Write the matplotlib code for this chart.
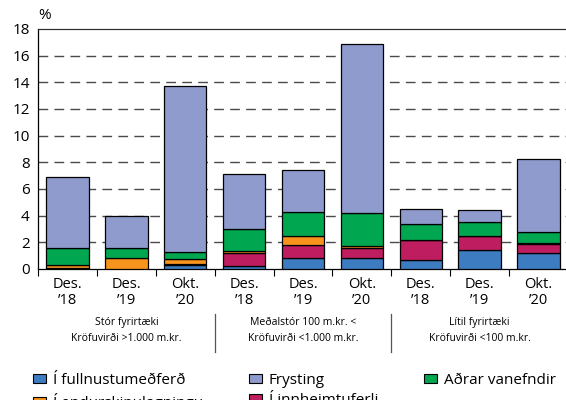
import matplotlib.pyplot as plt
from matplotlib.patches import Patch

plt.rcParams["font.family"] = ["Open Sans", "DejaVu Sans"]

# bars, left to right
tick_labels = ["Des.\n\u201918", "Des.\n\u201919", "Okt.\n\u201920"] * 3
group_labels = [
    "Stór fyrirtæki\nKröfuvirði >1.000 m.kr.",
    "Meðalstór 100 m.kr. <\nKröfuvirði <1.000 m.kr.",
    "Lítil fyrirtæki\nKröfuvirði <100 m.kr.",
]

# stacked components (%), bottom to top
fullnusta = [0.05, 0.0, 0.3, 0.22, 0.83, 0.8, 0.7, 1.4, 1.2]
innheimta = [0.0, 0.0, 0.1, 0.95, 0.97, 0.75, 1.5, 1.1, 0.7]
endursk = [0.25, 0.83, 0.35, 0.2, 0.68, 0.2, 0.0, 0.0, 0.05]
adrar = [1.3, 0.72, 0.5, 1.6, 1.8, 2.45, 1.2, 1.0, 0.8]
frysting = [5.3, 2.45, 12.5, 4.15, 3.15, 12.7, 1.08, 0.95, 5.53]

series = [
    ("Í fullnustumeðferð", fullnusta, "#3d7cc0"),
    ("Í innheimtuferli", innheimta, "#be1e5f"),
    ("Í endurskipulagningu", endursk, "#f7941e"),
    ("Aðrar vanefndir", adrar, "#00a650"),
    ("Frysting", frysting, "#8f9bcd"),
]

W, H = 566, 400
fig = plt.figure(figsize=(W / 100, H / 100), dpi=100)
ax = fig.add_axes([38 / W, (H - 269) / H, (568 - 38) / W, 240 / H])

x = list(range(len(tick_labels)))
bottom = [0.0] * len(x)
for name, vals, col in series:
    ax.bar(x, vals, width=0.72, bottom=bottom, color=col,
           edgecolor="black", linewidth=0.9, zorder=3)
    bottom = [b + v for b, v in zip(bottom, vals)]

ax.set_xlim(-0.5, 8.5)
ax.set_ylim(0, 18)
ax.set_yticks(range(0, 19, 2))
ax.tick_params(axis="y", length=0, labelsize=11, pad=6)
for yv in range(2, 18, 2):
    ax.axhline(yv, color="#4a4a4a", lw=1.0, dashes=(7, 4.5), zorder=1)

ax.set_xticks(x)
ax.set_xticklabels(tick_labels, fontsize=10.5, linespacing=1.05)
ax.set_xticks([i - 0.5 for i in range(10)], minor=True)
ax.tick_params(axis="x", which="major", length=0, pad=6)
ax.tick_params(axis="x", which="minor", length=5, width=0.8, direction="out")

for side in ["top", "left", "bottom"]:
    ax.spines[side].set_linewidth(0.9)
ax.spines["top"].set_color("#333333")
ax.spines["right"].set_visible(False)

ax.text(0, 1.025, "%", transform=ax.transAxes, fontsize=11, va="bottom", ha="left")

# group labels and separators
tr = ax.get_xaxis_transform()
for gi, lab in enumerate(group_labels):
    ax.text(gi * 3 + 1, -0.255, lab, transform=tr, ha="center", va="center",
            fontsize=7.5, linespacing=1.6)
for xs in [2.5, 5.5]:
    ax.plot([xs, xs], [-0.1875, -0.346], transform=tr, color="#555555",
            lw=0.9, clip_on=False)

# legend: column-major order as in the original
order = ["Í fullnustumeðferð", "Í endurskipulagningu", "Frysting",
         "Í innheimtuferli", "Aðrar vanefndir"]
colors = {name: col for name, _, col in series}
handles = [Patch(facecolor=colors[n], edgecolor="black", linewidth=0.8, label=n)
           for n in order]
fig.legend(handles=handles, ncol=3, loc="upper left",
           bbox_to_anchor=(33 / W, 1 - 373 / H), frameon=False, fontsize=11,
           handlelength=0.85, handleheight=0.45, handletextpad=0.45,
           columnspacing=3.0, labelspacing=0.3, borderpad=0, borderaxespad=0)

fig.savefig("out.png", dpi=100)
